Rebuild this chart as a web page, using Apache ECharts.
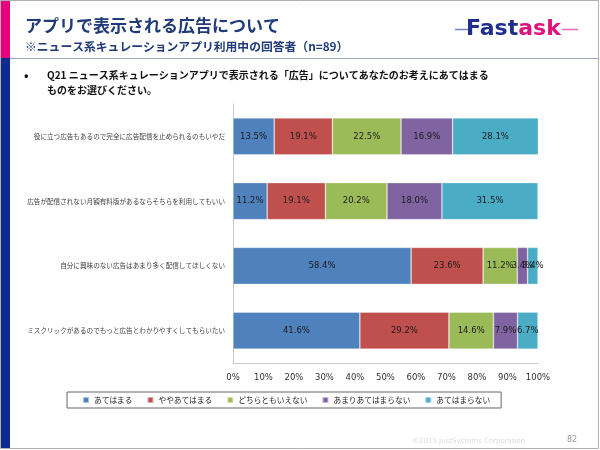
<!DOCTYPE html>
<html><head><meta charset="utf-8">
<script src="https://cdn.jsdelivr.net/npm/echarts@6/dist/echarts.min.js"></script>
<style>html,body{margin:0;padding:0;background:#fff}#c{width:600px;height:450px}</style>
</head><body><div id="c"></div>
<script>
const categories = [
  '役に立つ広告もあるので完全に広告配信を止められるのもいやだ',
  '広告が配信されない月額有料版があるならそちらを利用してもいい',
  '自分に興味のない広告はあまり多く配信してほしくない',
  'ミスクリックがあるのでもっと広告とわかりやすくしてもらいたい'
];
const seriesNames = ['あてはまる','ややあてはまる','どちらともいえない','あまりあてはまらない','あてはまらない'];
const vAtehamaru = [13.5, 11.2, 58.4, 41.6];
const vYaya = [19.1, 19.1, 23.6, 29.2];
const vDochira = [22.5, 20.2, 11.2, 14.6];
const vAmari = [16.9, 18.0, 3.4, 7.9];
const vNai = [28.1, 31.5, 3.4, 6.7];
const seriesValues = [vAtehamaru, vYaya, vDochira, vAmari, vNai];
const xTicks = {min: 0, max: 100, interval: 10};
const colors = ['#4F81BD','#C0504D','#9BBB59','#8064A2','#4BACC6'];

const title = 'アプリで表示される広告について';
const subtitle = '※ニュース系キュレーションアプリ利用中の回答者（n=89）';
const question1 = 'Q21 ニュース系キュレーションアプリで表示される「広告」についてあなたのお考えにあてはまる';
const question2 = 'ものをお選びください。';
const footer = '©2013 JustSystems Corporation';
const pageNo = '82';

const JP = '"Noto Sans CJK JP", sans-serif';
const chart = echarts.init(document.getElementById('c'), null, {renderer: 'canvas'});

const series = seriesNames.map((n, i) => ({
  name: n, type: 'bar', stack: 'all', barWidth: 37,
  data: seriesValues[i],
  itemStyle: {color: colors[i], borderColor: 'rgba(255,255,255,0.55)', borderWidth: 0.6},
  label: {show: true, position: 'inside', color: '#1a1a1a',
    fontFamily: '"DejaVu Sans", sans-serif', fontSize: 8.5,
    formatter: p => p.value.toFixed(1) + '%'}
}));

chart.setOption({
  animation: false,
  backgroundColor: '#fff',
  grid: {left: 233, right: 62, top: 104, bottom: 87, containLabel: false},
  xAxis: {type: 'value', min: xTicks.min, max: xTicks.max, interval: xTicks.interval,
    axisLine: {show: true, lineStyle: {color: '#c8c8c8', width: 1}},
    axisTick: {show: false}, splitLine: {show: false},
    axisLabel: {formatter: '{value}%', color: '#333', fontSize: 8.5, margin: 10,
      fontFamily: '"DejaVu Sans", sans-serif'}},
  yAxis: {type: 'category', data: categories, inverse: true,
    axisLine: {show: true, lineStyle: {color: '#c8c8c8', width: 1}},
    axisTick: {show: false},
    axisLabel: {color: '#404040', fontSize: 6.6, margin: 8, fontFamily: JP}},
  legend: {left: 67, top: 392, orient: 'horizontal', icon: 'rect',
    itemWidth: 6, itemHeight: 6, itemGap: 14,
    padding: [4, 11, 4, 15], borderColor: '#666', borderWidth: 1,
    textStyle: {fontSize: 7.7, color: '#222', fontFamily: JP},
    data: seriesNames},
  series: series,
  graphic: [
    {type: 'rect', shape: {x: 0.5, y: 0.5, width: 598, height: 448}, style: {fill: 'none', stroke: '#b0b0b0', lineWidth: 1}, silent: true},
    {type: 'rect', shape: {x: 1, y: 1, width: 9, height: 57}, style: {fill: '#E4007F'}},
    {type: 'rect', shape: {x: 1, y: 58, width: 9, height: 390}, style: {fill: '#0E2A8C'}},
    {type: 'line', shape: {x1: 10, y1: 58.5, x2: 598, y2: 58.5}, style: {stroke: '#9aa3b8', lineWidth: 1}},
    {type: 'text', style: {text: title, x: 25, y: 26, font: 'bold 17px ' + JP, fill: '#1F3B78', verticalAlign: 'middle'}},
    {type: 'text', style: {text: subtitle, x: 25, y: 47, font: 'bold 11.8px ' + JP, fill: '#1F3B78', verticalAlign: 'middle'}},
    {type: 'line', shape: {x1: 455, y1: 29.5, x2: 470, y2: 29.5}, style: {stroke: '#3a4fa8', lineWidth: 1.5, opacity: 0.7}},
    {type: 'line', shape: {x1: 562, y1: 29.5, x2: 578, y2: 29.5}, style: {stroke: '#E4007F', lineWidth: 1.5, opacity: 0.6}},
    {type: 'text', style: {text: '{a|Fast}{b|ask}', x: 466, y: 29, verticalAlign: 'middle',
      rich: {a: {fill: '#1E2F8E', font: 'bold 22px "DejaVu Sans", sans-serif'},
             b: {fill: '#E0137E', font: 'bold 22px "DejaVu Sans", sans-serif'}}}},
    {type: 'text', style: {text: '•', x: 24, y: 75, font: 'bold 12px ' + JP, fill: '#111', verticalAlign: 'middle'}},
    {type: 'text', style: {text: question1, x: 47, y: 75, font: 'bold 10px ' + JP, fill: '#111', verticalAlign: 'middle'}},
    {type: 'text', style: {text: question2, x: 47, y: 90, font: 'bold 10px ' + JP, fill: '#111', verticalAlign: 'middle'}},
    {type: 'text', style: {text: footer, x: 412, y: 441, font: '7px "DejaVu Sans", sans-serif', fill: '#dcdcdc', verticalAlign: 'middle'}},
    {type: 'text', style: {text: pageNo, x: 567, y: 440, font: '8px "DejaVu Sans", sans-serif', fill: '#999', verticalAlign: 'middle'}}
  ]
});
</script></body></html>
